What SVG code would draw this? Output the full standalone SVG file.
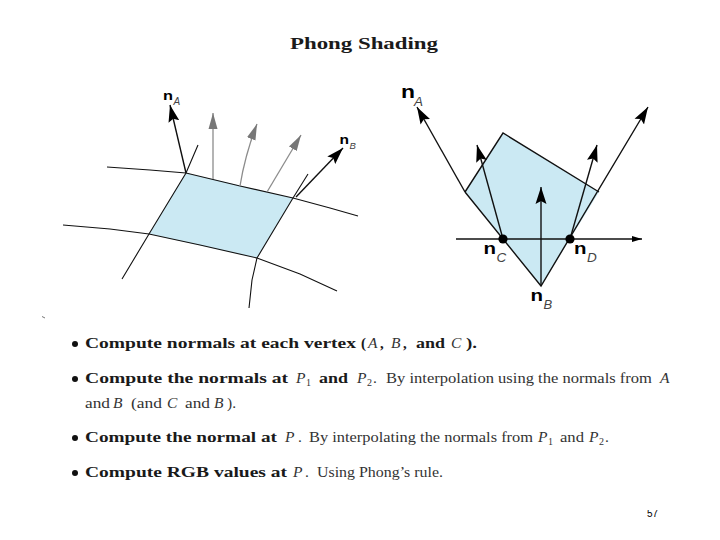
<svg xmlns="http://www.w3.org/2000/svg" width="720" height="540" viewBox="0 0 720 540">
<style>
.t{font-family:"Liberation Serif",serif;font-size:15.5px;fill:#333}
.b{font-family:"Liberation Serif",serif;font-size:15px;font-weight:bold;fill:#1a1a1a}
.i{font-family:"Liberation Serif",serif;font-size:15.5px;font-style:italic;fill:#333}
.s{font-family:"Liberation Serif",serif;font-size:10px;fill:#333}
.e{fill:none;stroke:#111;stroke-width:1.1}
.k{fill:none;stroke:#111;stroke-width:1.4}
.g{fill:none;stroke:#8c8c8c;stroke-width:1.3}
.n{font-family:"Liberation Sans",sans-serif;font-weight:bold;fill:#000}
.m{font-family:"Liberation Sans",sans-serif;font-style:italic;fill:#444}
</style>
<defs>
<marker id="ah" markerUnits="userSpaceOnUse" markerWidth="18" markerHeight="12" refX="17" refY="6" orient="auto"><path d="M17 6L0 0.500L3 6L0 11.500Z" fill="#000"/></marker>
<marker id="ag" markerUnits="userSpaceOnUse" markerWidth="18" markerHeight="10" refX="16" refY="5" orient="auto"><path d="M16 5L0 0.500L0 9.500Z" fill="#777"/></marker>
<marker id="as" markerUnits="userSpaceOnUse" markerWidth="12" markerHeight="8" refX="10" refY="4" orient="auto"><path d="M10 4L0 1L0 7Z" fill="#000"/></marker>
<clipPath id="pg"><rect x="640" y="510" width="30" height="12"/></clipPath>
</defs>
<rect width="720" height="540" fill="#fff"/>
<text id="title" x="290" y="49" class="b" style="font-size:17px" textLength="148" lengthAdjust="spacingAndGlyphs">Phong Shading</text>

<g id="left-figure">
<polygon points="186,173 293,198 257,258 149,234" fill="#cbe9f3"/>
<g id="left-connectors">
<path class="e" d="M107,167L150,170L186,173L240,186L293,198L330,208L358,216"/>
<path class="e" d="M63,225L110,229L149,234L200,245L257,258L300,274L337,291"/>
<path class="e" d="M198,145L186,173L149,234L122,279"/>
<path class="e" d="M308,174L293,198L257,258L252,280L249,308"/>
<path class="k" d="M186,173L170,105" marker-end="url(#ah)"/>
<path class="g" d="M213,179L213,113" marker-end="url(#ag)"/>
<path class="g" d="M240,186Q245,155 257,124" marker-end="url(#ag)"/>
<path class="g" d="M267,192L301,135" marker-end="url(#ag)"/>
<path class="k" d="M296,197L343,148" marker-end="url(#ah)"/>
</g>
<g id="left-nA"><text x="163" y="100" class="n" font-size="13.500" textLength="10" lengthAdjust="spacingAndGlyphs">n</text><text x="173.500" y="104.500" class="m" font-size="10">A</text></g>
<g id="left-nB"><text x="339.500" y="144" class="n" font-size="12.500" textLength="9.500" lengthAdjust="spacingAndGlyphs">n</text><text x="349.500" y="149" class="m" font-size="9.500">B</text></g>
</g>

<g id="right-figure">
<polygon points="503,133 599,192 541,286 465,192" fill="#cbe9f3"/>
<g id="right-connectors">
<path class="k" d="M465,192L503,133L599,192"/>
<path class="k" d="M465,192L541,286L648,107" marker-end="url(#ah)"/>
<path class="k" d="M465,192L417,107" marker-end="url(#ah)"/>
<path class="k" d="M503,239L477,145" marker-end="url(#ah)"/>
<path class="k" d="M541,286L541,187" marker-end="url(#ah)"/>
<path class="k" d="M570,239L597,145" marker-end="url(#ah)"/>
<path class="k" d="M456,239L642,239" marker-end="url(#as)"/>
</g>
<circle id="dot-C" cx="503" cy="239" r="4.600" fill="#000"/>
<circle id="dot-D" cx="570" cy="239" r="4.600" fill="#000"/>
<g id="right-nA"><text x="401" y="98" class="n" font-size="18" textLength="14" lengthAdjust="spacingAndGlyphs">n</text><text x="414" y="106" class="m" font-size="13.500">A</text></g>
<g id="right-nC"><text x="483.500" y="254" class="n" font-size="17" textLength="12.500" lengthAdjust="spacingAndGlyphs">n</text><text x="496.500" y="262" class="m" font-size="13.500">C</text></g>
<g id="right-nD"><text x="574" y="254" class="n" font-size="17" textLength="12.500" lengthAdjust="spacingAndGlyphs">n</text><text x="587" y="262" class="m" font-size="13.500">D</text></g>
<g id="right-nB"><text x="530.500" y="301" class="n" font-size="17" textLength="12.500" lengthAdjust="spacingAndGlyphs">n</text><text x="543.500" y="308.500" class="m" font-size="13">B</text></g>
</g>

<path d="M42,316.500L45,318" stroke="#777" stroke-width="1" fill="none"/>

<g id="bullets" fill="#111">
<circle cx="75" cy="344" r="3"/><circle cx="75" cy="379" r="3"/><circle cx="75" cy="438" r="3"/><circle cx="75" cy="473" r="3"/>
</g>

<g id="line1">
<text x="85" y="348" class="b" textLength="271" lengthAdjust="spacingAndGlyphs">Compute normals at each vertex</text>
<text x="361" y="348" class="b">(</text><text x="368" y="348" class="i">A</text><text x="380" y="348" class="b">,</text>
<text x="391" y="348" class="i">B</text><text x="403" y="348" class="b">,</text>
<text x="416" y="348" class="b" textLength="29" lengthAdjust="spacingAndGlyphs">and</text>
<text x="451" y="348" class="i">C</text><text x="466" y="348" class="b" textLength="11" lengthAdjust="spacingAndGlyphs">).</text>
</g>
<g id="line2">
<text x="85" y="383" class="b" textLength="203" lengthAdjust="spacingAndGlyphs">Compute the normals at</text>
<text x="296" y="383" class="i">P</text><text x="306" y="386" class="s">1</text>
<text x="319" y="383" class="b" textLength="29" lengthAdjust="spacingAndGlyphs">and</text>
<text x="357" y="383" class="i">P</text><text x="367" y="386" class="s">2</text><text x="373" y="383" class="t">.</text>
<text x="386" y="383" class="t" textLength="266" lengthAdjust="spacingAndGlyphs">By interpolation using the normals from</text>
<text x="660" y="383" class="i">A</text>
</g>
<g id="line3">
<text x="85" y="408" class="t" textLength="25" lengthAdjust="spacingAndGlyphs">and</text>
<text x="113" y="408" class="i">B</text>
<text x="131" y="408" class="t" textLength="31" lengthAdjust="spacingAndGlyphs">(and</text>
<text x="167" y="408" class="i">C</text>
<text x="185" y="408" class="t" textLength="25" lengthAdjust="spacingAndGlyphs">and</text>
<text x="214" y="408" class="i">B</text><text x="227" y="408" class="t" textLength="9" lengthAdjust="spacingAndGlyphs">).</text>
</g>
<g id="line4">
<text x="85" y="442" class="b" textLength="192" lengthAdjust="spacingAndGlyphs">Compute the normal at</text>
<text x="285" y="442" class="i">P</text><text x="298" y="442" class="t">.</text>
<text x="309" y="442" class="t" textLength="224" lengthAdjust="spacingAndGlyphs">By interpolating the normals from</text>
<text x="538" y="442" class="i">P</text><text x="548" y="445" class="s">1</text>
<text x="560" y="442" class="t" textLength="24" lengthAdjust="spacingAndGlyphs">and</text>
<text x="589" y="442" class="i">P</text><text x="599" y="445" class="s">2</text><text x="605" y="442" class="t">.</text>
</g>
<g id="line5">
<text x="85" y="477" class="b" textLength="202" lengthAdjust="spacingAndGlyphs">Compute RGB values at</text>
<text x="293" y="477" class="i">P</text><text x="305" y="477" class="t">.</text>
<text x="317" y="477" class="t" textLength="126" lengthAdjust="spacingAndGlyphs">Using Phong’s rule.</text>
</g>
<text id="page" x="647" y="517" clip-path="url(#pg)" font-family="Liberation Sans, sans-serif" font-size="10" fill="#000">57</text>
</svg>
